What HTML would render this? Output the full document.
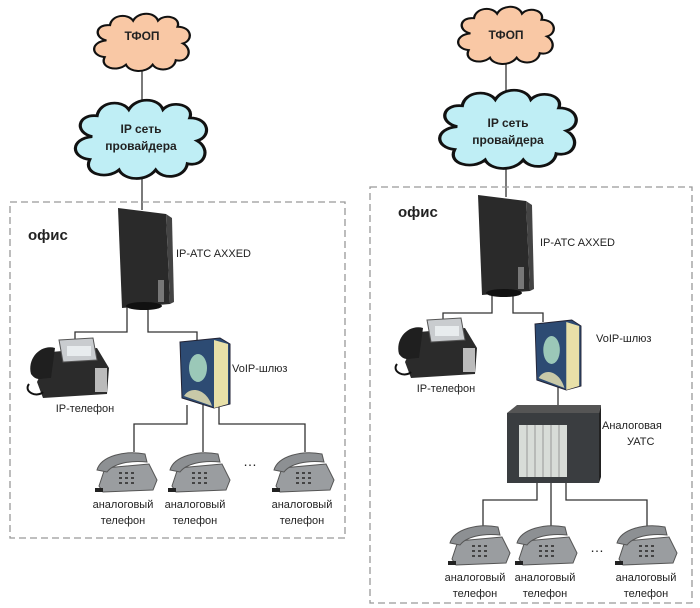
<!DOCTYPE html>
<html><head><meta charset="utf-8"><style>
html,body{margin:0;padding:0;background:#fff;width:700px;height:608px;overflow:hidden}
svg{display:block}
text{font-family:"Liberation Sans",sans-serif;fill:#222}
</style></head><body>
<svg width="700" height="608" viewBox="0 0 700 608" xmlns="http://www.w3.org/2000/svg">
<defs>
<g id="cloud">
<path d="M-40,-10 C-55,-14 -52,-32 -36,-30 C-34,-44 -16,-46 -10,-36 C-4,-48 14,-48 18,-36 C26,-46 44,-40 40,-28 C56,-28 58,-10 46,-6 C58,2 52,20 38,16 C36,30 18,32 12,22 C4,34 -14,32 -18,22 C-28,32 -48,26 -42,12 C-58,10 -58,-8 -40,-10 Z" stroke="#111" stroke-width="2.6"/>
</g>
<g id="aphone">
<path d="M4,36 L10,18 L54,14 L62,30 L58,40 L8,42 Z" fill="#9a9da0" stroke="#555" stroke-width="1"/>
<path d="M2,20 C6,6 30,0 50,4 L52,12 C34,10 18,14 12,22 Z" fill="#8d9093" stroke="#555"/>
<g fill="#444"><rect x="24" y="22" width="3" height="2"/><rect x="30" y="22" width="3" height="2"/><rect x="36" y="22" width="3" height="2"/><rect x="24" y="27" width="3" height="2"/><rect x="30" y="27" width="3" height="2"/><rect x="36" y="27" width="3" height="2"/><rect x="24" y="32" width="3" height="2"/><rect x="30" y="32" width="3" height="2"/><rect x="36" y="32" width="3" height="2"/></g>
<rect x="0" y="38" width="8" height="4" fill="#222"/>
</g>
<g id="tower">
<path d="M0,0 L48,6 L52,96 L4,100 Z" fill="#2a2a2a"/>
<path d="M48,6 L54,10 L56,94 L52,96 Z" fill="#444"/>
<rect x="40" y="72" width="6" height="22" fill="#777"/>
<ellipse cx="26" cy="98" rx="18" ry="4" fill="#111"/>
</g>
<g id="gw">
<path d="M0,4 L40,0 L50,6 L50,66 L34,70 L2,60 Z" fill="#2d4b73" stroke="#223" stroke-width="1"/>
<path d="M34,2 L48,6 L48,66 L34,70 Z" fill="#e8e0a8"/>
<ellipse cx="18" cy="30" rx="9" ry="14" fill="#9bc8b8"/>
<path d="M4,58 C10,48 26,50 32,68 Z" fill="#c9c9a8"/>
</g>
<g id="ipphone">
<path d="M10,44 L24,14 L70,10 L82,30 L80,56 L16,60 Z" fill="#2b2b2b"/>
<path d="M32,2 L66,0 L70,22 L36,24 Z" fill="#c9cccf" stroke="#555"/>
<rect x="40" y="8" width="24" height="10" fill="#e8ecee"/>
<path d="M4,36 C0,20 14,6 28,10 L24,40 C14,40 10,44 4,36 Z" fill="#1f1f1f"/>
<rect x="68" y="30" width="12" height="24" fill="#bbb"/>
<path d="M2,46 C-4,54 10,60 16,54" fill="none" stroke="#111" stroke-width="2"/>
</g>
</defs>

<!-- LEFT -->
<g stroke="#333" stroke-width="1.3" fill="none">
<line x1="142" y1="60" x2="142" y2="210"/>
<path d="M127,305 V332 H75 V345"/>
<path d="M148,305 V332 H197 V340"/>
<path d="M187,405 V424 H134 V452"/>
<path d="M203,405 V452"/>
<path d="M219,405 V424 H305 V452"/>
</g>
<use href="#cloud" transform="translate(142,48) scale(0.89,0.76)" fill="#f9c8a5"/>
<use href="#cloud" transform="translate(141,147) scale(1.22,1.04)" fill="#bfeef5"/>
<text x="142" y="40" font-size="12" font-weight="bold" text-anchor="middle">ТФОП</text>
<text x="141" y="133" font-size="12" font-weight="bold" text-anchor="middle">IP сеть</text>
<text x="141" y="150" font-size="12" font-weight="bold" text-anchor="middle">провайдера</text>
<rect x="10" y="202" width="335" height="336" fill="none" stroke="#999" stroke-width="1.3" stroke-dasharray="7,4"/>
<text x="28" y="240" font-size="15" font-weight="bold">офис</text>
<use href="#tower" transform="translate(118,208)"/>
<text x="176" y="257" font-size="11">IP-ATC AXXED</text>
<use href="#ipphone" transform="translate(27,338)"/>
<text x="85" y="412" font-size="11" text-anchor="middle">IP-телефон</text>
<use href="#gw" transform="translate(180,338)"/>
<text x="232" y="372" font-size="11">VoIP-шлюз</text>
<use href="#aphone" transform="translate(95,450)"/>
<use href="#aphone" transform="translate(168,450)"/>
<use href="#aphone" transform="translate(272,450)"/>
<text x="250" y="466" font-size="14" text-anchor="middle">…</text>
<g font-size="11" text-anchor="middle">
<text x="123" y="508">аналоговый</text><text x="123" y="524">телефон</text>
<text x="195" y="508">аналоговый</text><text x="195" y="524">телефон</text>
<text x="302" y="508">аналоговый</text><text x="302" y="524">телефон</text>
</g>

<!-- RIGHT -->
<g stroke="#333" stroke-width="1.3" fill="none">
<line x1="506" y1="60" x2="506" y2="197"/>
<path d="M492,295 V313 H443 V330"/>
<path d="M513,295 V313 H543 V322"/>
<path d="M558,385 V410"/>
<path d="M537,478 V500 H483 V528"/>
<path d="M551,478 V528"/>
<path d="M566,478 V500 H647 V528"/>
</g>
<use href="#cloud" transform="translate(506,41) scale(0.89,0.76)" fill="#f9c8a5"/>
<use href="#cloud" transform="translate(508,137) scale(1.27,1.04)" fill="#bfeef5"/>
<text x="506" y="39" font-size="12" font-weight="bold" text-anchor="middle">ТФОП</text>
<text x="508" y="127" font-size="12" font-weight="bold" text-anchor="middle">IP сеть</text>
<text x="508" y="144" font-size="12" font-weight="bold" text-anchor="middle">провайдера</text>
<rect x="370" y="187" width="322" height="416" fill="none" stroke="#999" stroke-width="1.3" stroke-dasharray="7,4"/>
<text x="398" y="217" font-size="15" font-weight="bold">офис</text>
<use href="#tower" transform="translate(478,195)"/>
<text x="540" y="246" font-size="11">IP-ATC AXXED</text>
<use href="#ipphone" transform="translate(395,318)"/>
<text x="446" y="392" font-size="11" text-anchor="middle">IP-телефон</text>
<use href="#gw" transform="translate(535,320) scale(0.92,1)"/>
<text x="596" y="342" font-size="11">VoIP-шлюз</text>
<g transform="translate(507,405)">
<path d="M0,8 L10,0 L94,0 L92,8 Z" fill="#555"/>
<rect x="0" y="8" width="92" height="70" fill="#3a3d40"/>
<rect x="12" y="20" width="48" height="52" fill="#d8dcd8"/>
<g stroke="#999" stroke-width="1"><line x1="20" y1="20" x2="20" y2="72"/><line x1="28" y1="20" x2="28" y2="72"/><line x1="36" y1="20" x2="36" y2="72"/><line x1="44" y1="20" x2="44" y2="72"/><line x1="52" y1="20" x2="52" y2="72"/></g>
<path d="M92,8 L94,0 L94,72 L92,78 Z" fill="#222"/>
</g>
<text x="602" y="429" font-size="11">Аналоговая</text>
<text x="627" y="445" font-size="11">УАТС</text>
<use href="#aphone" transform="translate(448,523)"/>
<use href="#aphone" transform="translate(515,523)"/>
<use href="#aphone" transform="translate(615,523)"/>
<text x="597" y="552" font-size="14" text-anchor="middle">…</text>
<g font-size="11" text-anchor="middle">
<text x="475" y="581">аналоговый</text><text x="475" y="597">телефон</text>
<text x="545" y="581">аналоговый</text><text x="545" y="597">телефон</text>
<text x="646" y="581">аналоговый</text><text x="646" y="597">телефон</text>
</g>
</svg>
</body></html>
